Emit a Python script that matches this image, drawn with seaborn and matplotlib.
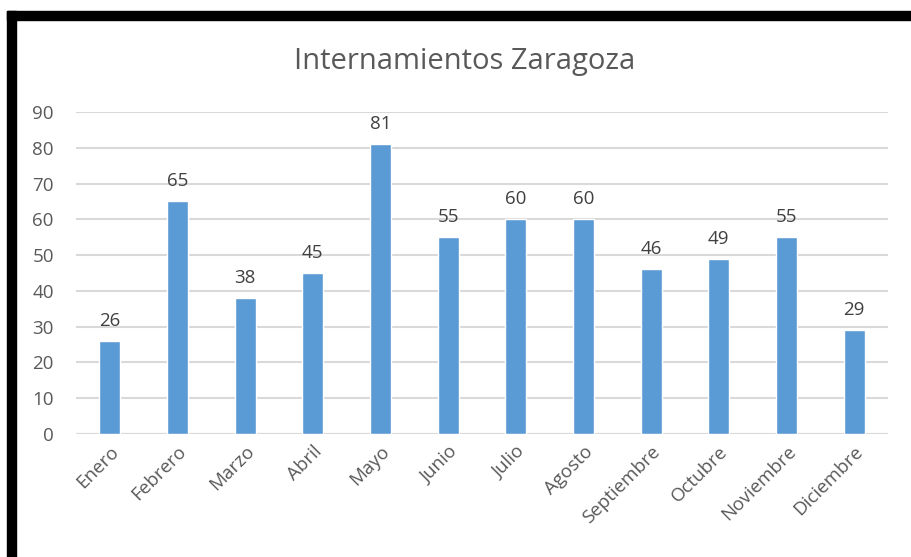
import matplotlib
matplotlib.use("Agg")
import matplotlib.pyplot as plt
import seaborn as sns
import pandas as pd
from matplotlib.patches import Rectangle

meses = ["Enero", "Febrero", "Marzo", "Abril", "Mayo", "Junio", "Julio",
         "Agosto", "Septiembre", "Octubre", "Noviembre", "Diciembre"]
internamientos = [26, 65, 38, 45, 81, 55, 60, 60, 46, 49, 55, 29]
y_ticks = [0, 10, 20, 30, 40, 50, 60, 70, 80, 90]

df = pd.DataFrame({"mes": meses, "valor": internamientos})

sns.set_style("white")
plt.rcParams["font.family"] = ["Open Sans", "DejaVu Sans"]

W, H = 912, 557
fig = plt.figure(figsize=(W / 100, H / 100), dpi=100)
ax = fig.add_axes([76 / W, 1 - 434 / H, (888 - 76) / W, (434 - 112) / H])

sns.barplot(data=df, x="mes", y="valor", color="#5b9bd5", width=0.31,
            saturation=1, ax=ax, zorder=3)

ax.set_ylim(0, 90)
ax.set_yticks(y_ticks)
ax.set_xlim(-0.5, len(meses) - 0.5)
ax.grid(axis="y", color="#d9d9d9", linewidth=1.5, zorder=0)
ax.set_axisbelow(True)
for s in ["top", "right", "left", "bottom"]:
    ax.spines[s].set_visible(False)
ax.axhline(0, color="#d9d9d9", linewidth=1.5, zorder=1)
ax.set_xlabel("")
ax.set_ylabel("")
ax.tick_params(axis="both", length=0, colors="#595959", labelsize=13.5)
ax.tick_params(axis="y", pad=16)
ax.tick_params(axis="x", pad=6)
plt.setp(ax.get_xticklabels(), rotation=45, ha="right", rotation_mode="anchor")

for c in ax.containers:
    ax.bar_label(c, padding=8, fontsize=13.5, color="#404040")

fig.text(465 / W, 1 - 62 / H, "Internamientos Zaragoza", ha="center", va="center",
         fontsize=21, color="#595959")

# black frame on top and left
fig.patches.append(Rectangle((7 / W, 1 - 20 / H), 1, 9 / H, transform=fig.transFigure,
                             color="black", zorder=10))
fig.patches.append(Rectangle((7 / W, 0), 9 / W, 1 - 11 / H, transform=fig.transFigure,
                             color="black", zorder=10))

fig.savefig("out.png", dpi=100, facecolor="white")
